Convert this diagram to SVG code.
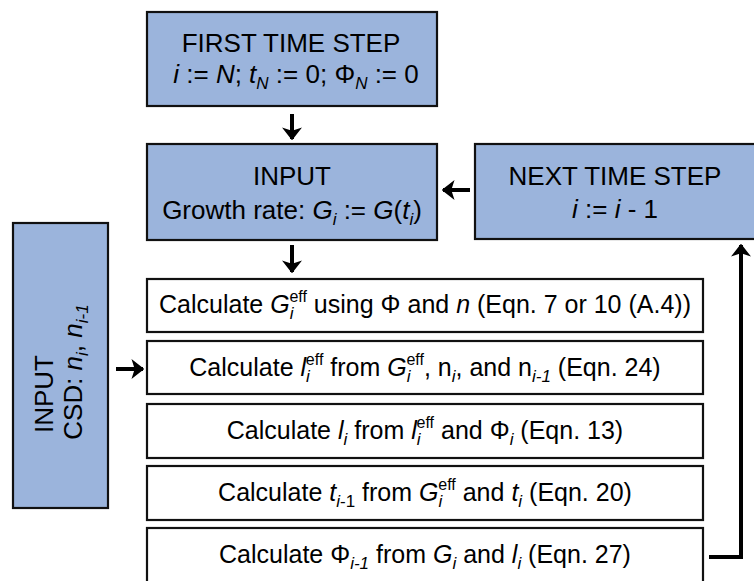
<svg xmlns="http://www.w3.org/2000/svg" width="754" height="581" viewBox="0 0 754 581">
  <style>
    text { font-family: "Liberation Sans", Arial, sans-serif; font-size: 25px; fill: #000; text-anchor: middle; }
    .hd { font-size: 26px; }
    .it { font-style: italic; }
    .sub { font-size: 17px; }
    .sup { font-size: 16px; }
    .blue { fill: #9bb4dc; stroke: #111; stroke-width: 2.2; }
    .calc { fill: #fff; stroke: #111; stroke-width: 2.2; }
    .conn { fill: none; stroke: #000; stroke-width: 4; stroke-linejoin: miter; }
  </style>
  <defs>
    <marker id="head" viewBox="0 0 10 10" preserveAspectRatio="none" refX="9" refY="5" markerWidth="3.2" markerHeight="5" markerUnits="strokeWidth" orient="auto">
      <path d="M0,0 L10,5 L0,10 L2.5,5 z" fill="#000"/>
    </marker>
  </defs>

  <g id="first-step">
    <rect class="blue" x="147" y="12" width="290" height="94"/>
    <text class="hd" x="291" y="52">FIRST TIME STEP</text>
    <text class="hd" x="296" y="83"><tspan class="it">i</tspan> := <tspan class="it">N</tspan>; <tspan class="it">t</tspan><tspan class="sub it" dy="6">N</tspan><tspan dy="-6"> := 0; Φ</tspan><tspan class="sub it" dy="6">N</tspan><tspan dy="-6"> := 0</tspan></text>
  </g>

  <g id="input-growth">
    <rect class="blue" x="147" y="144" width="290" height="96"/>
    <text class="hd" x="292" y="185">INPUT</text>
    <text class="hd" x="292" y="219">Growth rate: <tspan class="it">G</tspan><tspan class="sub it" dy="6">i</tspan><tspan dy="-6"> := </tspan><tspan class="it">G</tspan>(<tspan class="it">t</tspan><tspan class="sub it" dy="6">i</tspan><tspan dy="-6">)</tspan></text>
  </g>

  <g id="next-step">
    <rect class="blue" x="475" y="144" width="282" height="95"/>
    <text class="hd" x="615" y="185">NEXT TIME STEP</text>
    <text class="hd" x="615" y="218"><tspan class="it">i</tspan> := <tspan class="it">i</tspan> - 1</text>
  </g>

  <g id="input-csd">
    <rect class="blue" x="13" y="223" width="95" height="285"/>
    <text class="hd" transform="translate(53,394) rotate(-90)">INPUT</text>
    <text class="hd" transform="translate(82,372) rotate(-90)">CSD: <tspan class="it">n</tspan><tspan class="sub it" dy="6">i</tspan><tspan dy="-6">, </tspan><tspan class="it">n</tspan><tspan class="sub it" dy="6">i-1</tspan></text>
  </g>

  <g id="calc-growth-eff">
    <rect class="calc" x="147" y="279" width="556" height="53"/>
    <text x="425" y="313">Calculate <tspan class="it">G</tspan><tspan class="sub it" dy="6">i</tspan><tspan class="sup" dx="-4" dy="-17">eff</tspan><tspan dy="11"> using Φ and </tspan><tspan class="it">n</tspan> (Eqn. 7 or 10 (A.4))</text>
  </g>

  <g id="calc-l-eff">
    <rect class="calc" x="147" y="341" width="556" height="53"/>
    <text x="425" y="376">Calculate <tspan class="it">l</tspan><tspan class="sub it" dy="6">i</tspan><tspan class="sup" dx="-4" dy="-17">eff</tspan><tspan dy="11"> from </tspan><tspan class="it">G</tspan><tspan class="sub it" dy="6">i</tspan><tspan class="sup" dx="-4" dy="-17">eff</tspan><tspan dy="11">, n</tspan><tspan class="sub it" dy="6">i</tspan><tspan dy="-6">, and n</tspan><tspan class="sub it" dy="6">i-1</tspan><tspan dy="-6"> (Eqn. 24)</tspan></text>
  </g>

  <g id="calc-l">
    <rect class="calc" x="147" y="404" width="556" height="54"/>
    <text x="425" y="439">Calculate <tspan class="it">l</tspan><tspan class="sub it" dy="6">i</tspan><tspan dy="-6"> from </tspan><tspan class="it">l</tspan><tspan class="sub it" dy="6">i</tspan><tspan class="sup" dx="-4" dy="-17">eff</tspan><tspan dy="11"> and Φ</tspan><tspan class="sub it" dy="6">i</tspan><tspan dy="-6"> (Eqn. 13)</tspan></text>
  </g>

  <g id="calc-t">
    <rect class="calc" x="147" y="466" width="556" height="54"/>
    <text x="425" y="501">Calculate <tspan class="it">t</tspan><tspan class="sub" dy="6"><tspan class="it">i</tspan>-1</tspan><tspan dy="-6"> from </tspan><tspan class="it">G</tspan><tspan class="sub it" dy="6">i</tspan><tspan class="sup" dx="-4" dy="-17">eff</tspan><tspan dy="11"> and </tspan><tspan class="it">t</tspan><tspan class="sub it" dy="6">i</tspan><tspan dy="-6"> (Eqn. 20)</tspan></text>
  </g>

  <g id="calc-phi">
    <rect class="calc" x="147" y="528" width="556" height="62"/>
    <text x="425" y="563">Calculate Φ<tspan class="sub it" dy="6">i-1</tspan><tspan dy="-6"> from </tspan><tspan class="it">G</tspan><tspan class="sub it" dy="6">i</tspan><tspan dy="-6"> and </tspan><tspan class="it">l</tspan><tspan class="sub it" dy="6">i</tspan><tspan dy="-6"> (Eqn. 27)</tspan></text>
  </g>

  <g id="connectors">
    <path class="conn" d="M292,114 V139" marker-end="url(#head)"/>
    <path class="conn" d="M292,245 V272" marker-end="url(#head)"/>
    <path class="conn" d="M470,190 H443" marker-end="url(#head)"/>
    <path class="conn" d="M116,369 H143" marker-end="url(#head)"/>
    <path class="conn" d="M709,557 H741 V245" stroke-width="4.4" marker-end="url(#head)"/>
  </g>
</svg>
